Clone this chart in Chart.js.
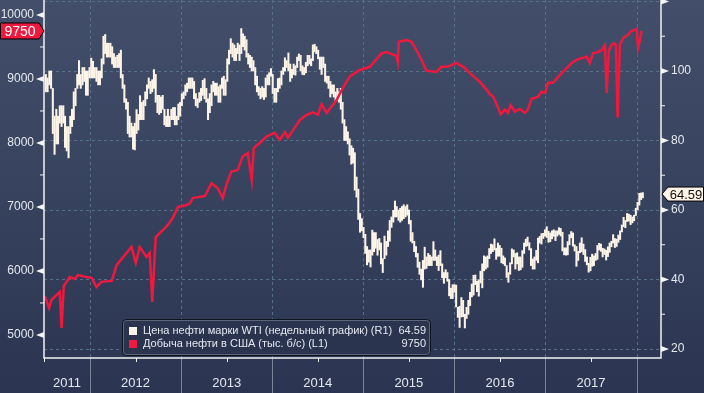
<!DOCTYPE html>
<html lang="ru">
<head>
<meta charset="UTF-8">
<title>WTI и добыча нефти в США</title>
<script src="https://cdn.jsdelivr.net/npm/chart.js@4.4.1/dist/chart.umd.min.js"></script>
<style>
html, body { margin: 0; padding: 0; background: #2e3a55; }
#wrap { width: 704px; height: 393px; }
</style>
</head>
<body>
<div id="wrap"><canvas id="chart" width="704" height="393"></canvas></div>
<script>
// weekly WTI bars (week ending dates, starting below), low / high, $/bbl
const wtiFirstWeek = '2011-07-08';
const wtiLow = [
  // 2011
  94,94,96,95,82,76,79,79,85,84,85,78,77,75,82,84,86,90,95,96,95,96,97,93,93,98,
  // 2012
  98,98,98,97,96,96,98,102,105,104,104,104,102,101,101,101,101,98,95,91,89,82,81,81,77.5,77.3,
  82,83,86,86,86,90,92,95,93.5,94,95,91,88,87.5,88,89,84.5,84,84,84,86,86,84.5,84.5,86,87,
  // 2013
  90,92,93,94,95,95,95,92,90,89.5,91,91.5,93,92,91,86,88,90,94,93,93,91,91,95,93,93,
  97,102,105,104,103,103,105,103,105,107,106,104,102,101,100,100,96,94,93,92,92.5,91.8,92.5,96,96,98.5,
  // 2014
  93.5,91,91,94,95,96,99,100,101,100,97,98,99,98.8,101,103,100,99,98.9,99.5,101.5,102,101.5,103,105.5,105,
  103.5,100.5,99,101,97,96.5,95,92.5,93.5,92.5,91.2,91.5,91,89,85,80,80,79,75.8,73.2,73.5,65.7,63.7,57.3,53.6,54,
  // 2015
  52,47.5,44.2,45,43.6,47,48,49,47,48.5,44.5,42,46,47,49.5,51,55,56.5,58,58,57,56.5,57,57.5,58,58.5,
  56,51,50.5,48,46.5,43.5,41.5,39.9,37.75,43,43.2,44,44,44,45.5,45.5,44,42.6,44,40.5,38.9,40.5,39.5,35.3,34.5,34.5,
  // 2016
  36.3,32.1,29.1,26.2,29.2,29.3,26.05,28.8,30,32.5,35,35.5,38.5,36.5,35.2,39,37.6,42.5,43,43.5,46,47.5,48,48.5,45.8,46.7,
  46.7,44.8,44.5,44,40.6,39.2,41.5,44.5,46.5,43,44.5,42.6,42.8,43.5,47.5,49.5,49.7,48.5,44,43,43,45.5,44.8,50.5,50.2,51.8,52.5,
  // 2017
  52.1,50.7,50.9,51.7,52.4,51.2,52.5,53,52.5,48.2,47.1,47,47.1,50,52,49.6,48.2,43.8,45.5,47.7,48,47.2,45.2,44.2,42.1,42.5,
  43.8,44,45.5,45.8,48.5,48.1,46.5,47.2,45.6,46.6,47.8,49.4,50.5,49.2,49.5,50.7,51.5,53.7,55.2,54.9,56.7,56.8,55.8,56.3,56.9,58.4,
  // 2018
  60.1,61.4,63,63.5
];
const wtiHigh = [
  // 2011
  99,98,100,100,95,87,89,87,90,90,90,87,84,84,87,89,94,95,99,103,99,101,101,100,100,101,
  // 2012
  103.7,102.8,101,101,100,100,103.5,110,110.5,108,108,108,107,105,104,104.5,105,106,99,96,92,91,87,85,84,85,
  88.9,87.5,92.9,91,91.5,94,96,98,97,97.5,100.4,99,93,93,92.5,93,89,87,89,87,89,89.5,89.5,87,90.5,91,
  // 2013
  93.5,94,96,96.5,98,98,98,97,93.5,92,93.8,95,97.3,97.8,95,92,93.5,96,97,96.5,96.5,95.5,96,98,98.5,97.5,
  103.5,106,109.3,108,107.5,106.5,108,107.5,112.2,110.7,110,109,105,104.5,104,103,101,98.5,95.5,95,95.5,95,98,98.9,99.5,100.7,
  // 2014
  99,95,95,97.8,98,100,101,103.8,103,105.2,102,100.5,102,101.5,104,104.9,104.5,101.5,101,102.5,104.5,104.5,103.5,107.5,107.7,107,
  106,104,104,104,102,98.5,98.5,97,96,96,94,95,94,95,91,86,84,82.5,80.5,78.5,77.8,76.5,69.5,66,59,57.5,
  // 2015
  55,53,49.5,48.5,48.5,54.2,53.5,53.5,51.5,51.8,50.5,46,52.5,51,54,57,58,59.9,62.6,61,60,60.5,61,61.5,61,61.5,
  60,57,53.5,51,49.5,47.5,45,43,45.5,49.3,46.5,47.5,47,46.5,50.9,48.5,46.5,47,48.3,44.5,42,42.8,42,40,37.5,38.5,
  // 2016
  38.5,38.4,32,32.3,34.8,34,30,32,34,36.3,38.7,41.2,41.3,39.5,39.9,42.4,44.5,46.8,46.5,46.8,48.9,50.2,50,51.7,49,50.5,
  49.8,49,46.8,46.2,44,42,44.8,48.8,48.5,47.5,47.7,46.5,46.5,48.3,50.5,51.6,52.2,50.6,48.9,45.9,46.5,48.4,51.9,52.4,53.2,53.3,54.3,
  // 2017
  55.2,53.9,53.4,54,54.3,54,54,54.9,54.7,53.6,49.1,49.1,50.9,52.9,53.8,53.4,50,49.5,48.1,50.5,52,50.2,48.6,46.5,44.7,46.4,
  47.3,46.8,47.5,49.8,50.4,50.2,49,48.8,48.4,49.4,50.5,51,52.9,51.8,51.6,52.8,54,55.7,57.9,57,59,58.8,58.5,58,58.5,60.5,
  // 2018
  62.2,64.8,64.9,65
];
const wtiLast = 64.59;

// US crude production, thousand b/d
const prodDates = [
  '2011-07-04','2011-07-21','2011-07-31','2011-09-02','2011-09-09','2011-09-18','2011-10-12','2011-11-01','2011-11-13',
  '2012-01-08','2012-01-27','2012-02-16','2012-03-28','2012-04-17','2012-05-20','2012-06-16','2012-07-03','2012-07-19',
  '2012-08-15','2012-08-28','2012-09-07','2012-09-21','2012-10-20','2012-11-09','2012-11-29','2012-12-19',
  '2013-01-23','2013-02-06','2013-02-17','2013-03-04','2013-04-06','2013-05-03','2013-05-28','2013-06-17','2013-07-01',
  '2013-07-21','2013-08-16','2013-09-05','2013-09-25','2013-10-11','2013-10-19','2013-11-12','2013-12-09',
  '2014-01-11','2014-01-31','2014-02-21','2014-03-05','2014-03-25','2014-04-22','2014-05-19','2014-06-13','2014-07-03',
  '2014-07-18','2014-08-07','2014-09-16','2014-10-11','2014-11-08','2014-12-18',
  '2015-01-27','2015-03-15','2015-04-04','2015-05-14','2015-05-19','2015-05-23','2015-06-23','2015-07-13','2015-08-02',
  '2015-08-22','2015-09-11','2015-10-21','2015-11-10','2015-12-05',
  '2016-01-10','2016-02-12','2016-03-03','2016-04-13','2016-05-10','2016-05-23','2016-06-05','2016-06-24','2016-07-05',
  '2016-07-22','2016-08-03','2016-08-14','2016-08-31','2016-09-20','2016-10-10','2016-10-22','2016-11-06','2016-12-01',
  '2016-12-16','2016-12-30',
  '2017-01-11','2017-01-31','2017-02-15','2017-03-07','2017-04-01','2017-04-16','2017-05-11','2017-05-31','2017-06-15',
  '2017-06-28','2017-07-10','2017-07-30','2017-08-14','2017-08-27','2017-09-03','2017-09-12','2017-09-23','2017-10-02',
  '2017-10-10','2017-10-17','2017-10-26','2017-11-08','2017-11-28','2017-12-12',
  '2018-01-01','2018-01-07','2018-01-14','2018-01-21'
];
const prodValues = [
  5610,5420,5550,5670,5110,5765,5906,5875,5935,
  5890,5750,5830,5845,6090,6250,6375,6125,6375,
  6220,6280,5515,6530,6640,6720,6830,7000,
  7030,7060,7140,7150,7170,7370,7290,7140,7340,
  7550,7580,7790,7840,7420,7920,8000,8100,
  8160,8050,8170,8080,8200,8360,8440,8480,8440,
  8610,8470,8670,8860,9040,9140,
  9190,9400,9420,9360,9270,9580,9610,9580,9450,
  9300,9130,9110,9190,9190,
  9250,9170,9090,8950,8830,8760,8720,8560,8450,
  8520,8470,8590,8490,8530,8470,8520,8690,8720,
  8800,8780,
  8940,8940,9010,9090,9190,9250,9310,9330,9350,
  9250,9400,9420,9450,9530,8780,9450,9530,9560,
  9530,8400,9530,9640,9690,9750,
  9780,9480,9610,9750
];

const leftTicks = [5000, 6000, 7000, 8000, 9000, 10000];
const rightTicks = [20, 40, 60, 80, 100, 120];
const yearLabels = ['2011', '2012', '2013', '2014', '2015', '2016', '2017'];
const legendNames = [
  'Цена нефти марки WTI (недельный график) (R1)',
  'Добыча нефти в США (тыс. б/с) (L1)'
];

const FONT = '"Liberation Sans", Arial, sans-serif';
const TXT = '#e4e8ef';
const RED = '#f0183e';
const CREAM = '#fdf4e8';

function toYear(t) {
  if (typeof t === 'string') t = Date.parse(t + 'T00:00:00Z');
  const y = new Date(t).getUTCFullYear();
  const a = Date.UTC(y, 0, 1), b = Date.UTC(y + 1, 0, 1);
  return y + (t - a) / (b - a);
}

const week0 = Date.parse(wtiFirstWeek + 'T00:00:00Z');
const wtiData = wtiLow.map((lo, i) => ({ x: toYear(week0 + i * 7 * 86400000), y: [lo, wtiHigh[i]] }));
const prodData = prodDates.map((d, i) => ({ x: toYear(d), y: prodValues[i] }));

function flag(ctx, pts, fill) {
  ctx.beginPath();
  pts.forEach((p, i) => i ? ctx.lineTo(p[0], p[1]) : ctx.moveTo(p[0], p[1]));
  ctx.closePath();
  ctx.fillStyle = fill;
  ctx.fill();
  ctx.strokeStyle = '#000';
  ctx.lineWidth = 1;
  ctx.stroke();
}

// no extra room for half tick labels: plot runs to the canvas top
function noPad(s) {
  s.paddingTop = 0; s.paddingBottom = 0; s.paddingLeft = 0; s.paddingRight = 0;
}

const deco = {
  id: 'deco',
  beforeDraw(chart) {
    const { ctx, width, height } = chart;
    const g = ctx.createLinearGradient(0, 0, 0, height);
    g.addColorStop(0, '#434f6a');
    g.addColorStop(1, '#2b3551');
    ctx.save();
    ctx.fillStyle = g;
    ctx.fillRect(0, 0, width, height);
    ctx.restore();
  },
  beforeDatasetsDraw(chart) {
    const { ctx, chartArea: a, scales } = chart;
    ctx.save();
    ctx.strokeStyle = '#587189';
    ctx.lineWidth = 1;
    ctx.setLineDash([3, 3]);
    rightTicks.forEach(v => {
      const y = Math.round(scales.yR.getPixelForValue(v)) + 0.5;
      ctx.beginPath(); ctx.moveTo(a.left, y); ctx.lineTo(a.right, y); ctx.stroke();
    });
    for (let yr = 2012; yr <= 2018; yr++) {
      const x = Math.round(scales.x.getPixelForValue(yr)) + 0.5;
      ctx.beginPath(); ctx.moveTo(x, a.top); ctx.lineTo(x, a.bottom); ctx.stroke();
    }
    ctx.restore();
  },
  afterDraw(chart) {
    const { ctx, chartArea: a, scales, width, height } = chart;
    const xs = scales.x, yL = scales.yL, yR = scales.yR;
    ctx.save();
    // year separators and mid-year ticks under the axis
    ctx.strokeStyle = '#7b8598';
    ctx.lineWidth = 1;
    for (let yr = 2012; yr <= 2018; yr++) {
      const x = Math.round(xs.getPixelForValue(yr)) + 0.5;
      ctx.beginPath(); ctx.moveTo(x, a.bottom); ctx.lineTo(x, height); ctx.stroke();
    }
    ctx.strokeStyle = '#f2f2f2';
    for (let yr = 2011; yr <= 2017; yr++) {
      const x = Math.round(xs.getPixelForValue(yr + 0.5)) + 0.5;
      if (x < a.left || x > a.right) continue;
      ctx.beginPath(); ctx.moveTo(x, a.bottom); ctx.lineTo(x, a.bottom + 4); ctx.stroke();
    }
    // axis lines
    ctx.lineWidth = 1.5;
    ctx.beginPath();
    ctx.moveTo(a.left, 0); ctx.lineTo(a.left, a.bottom);
    ctx.lineTo(a.right, a.bottom); ctx.lineTo(a.right, 0);
    ctx.stroke();
    // tick markers
    ctx.fillStyle = '#f4f4f4';
    ctx.lineWidth = 1;
    leftTicks.forEach(v => {
      const y = yL.getPixelForValue(v);
      ctx.beginPath(); ctx.moveTo(a.left, y - 3); ctx.lineTo(a.left, y + 3); ctx.lineTo(a.left - 8, y); ctx.fill();
      const m = yL.getPixelForValue(v + 500);
      if (m > a.top) { ctx.beginPath(); ctx.moveTo(a.left - 4, m); ctx.lineTo(a.left, m); ctx.stroke(); }
    });
    rightTicks.forEach(v => {
      const y = yR.getPixelForValue(v);
      ctx.beginPath(); ctx.moveTo(a.right, y - 3); ctx.lineTo(a.right, y + 3); ctx.lineTo(a.right + 8, y); ctx.fill();
      const m = yR.getPixelForValue(v + 10);
      if (m > a.top) { ctx.beginPath(); ctx.moveTo(a.right, m); ctx.lineTo(a.right + 4, m); ctx.stroke(); }
    });
    // year labels centred on visible part of each year
    ctx.fillStyle = TXT;
    ctx.font = '13px ' + FONT;
    ctx.textAlign = 'center';
    ctx.textBaseline = 'middle';
    yearLabels.forEach(lbl => {
      const yr = +lbl;
      const x0 = Math.max(xs.getPixelForValue(yr), a.left);
      const x1 = Math.min(xs.getPixelForValue(yr + 1), a.right);
      ctx.fillText(lbl, (x0 + x1) / 2, 383);
    });
    // last value flags
    const lastProd = prodValues[prodValues.length - 1];
    const py = yL.getPixelForValue(lastProd);
    flag(ctx, [[0.5, py - 8], [a.left - 5, py - 8], [a.left, py], [a.left - 5, py + 8], [0.5, py + 8]], RED);
    ctx.fillStyle = '#fff';
    ctx.font = '14px ' + FONT;
    ctx.fillText(String(lastProd), 20, py + 1);
    const wy = yR.getPixelForValue(wtiLast);
    flag(ctx, [[a.right + 1, wy], [a.right + 7, wy - 7], [width - 0.5, wy - 7], [width - 0.5, wy + 7], [a.right + 7, wy + 7]], CREAM);
    ctx.fillStyle = '#111';
    ctx.font = '13px ' + FONT;
    ctx.fillText(wtiLast.toFixed(2), 686, wy + 1);
    // legend box
    const bx = 122.5, by = 319.5, bw = 308, bh = 36;
    ctx.beginPath();
    ctx.roundRect(bx, by, bw, bh, 4);
    ctx.fillStyle = '#2a344f';
    ctx.fill();
    ctx.strokeStyle = '#0e1320';
    ctx.lineWidth = 1;
    ctx.stroke();
    ctx.beginPath();
    ctx.roundRect(bx + 1, by + 1, bw - 2, bh - 2, 3);
    ctx.strokeStyle = '#5c6579';
    ctx.stroke();
    const values = [wtiLast.toFixed(2), String(lastProd)];
    const colors = [CREAM, RED];
    ctx.font = '11px ' + FONT;
    legendNames.forEach((name, i) => {
      const cy = 331 + i * 13;
      ctx.fillStyle = colors[i];
      ctx.fillRect(129, cy - 4, 8, 8);
      ctx.fillStyle = TXT;
      ctx.textAlign = 'left';
      ctx.fillText(name, 143, cy);
      ctx.textAlign = 'right';
      ctx.fillText(values[i], 426, cy);
    });
    ctx.restore();
  }
};

new Chart(document.getElementById('chart'), {
  type: 'bar',
  data: {
    datasets: [
      {
        type: 'line',
        label: legendNames[1],
        data: prodData,
        yAxisID: 'yL',
        borderColor: RED,
        borderWidth: 2.5,
        pointRadius: 0,
        tension: 0,
        order: 0
      },
      {
        type: 'bar',
        label: legendNames[0],
        data: wtiData,
        yAxisID: 'yR',
        backgroundColor: CREAM,
        borderWidth: 0,
        barThickness: 1.4,
        grouped: false,
        order: 1
      }
    ]
  },
  options: {
    responsive: false,
    animation: false,
    layout: { padding: 0 },
    plugins: { legend: { display: false }, tooltip: { enabled: false } },
    scales: {
      x: {
        type: 'linear',
        min: 2011.495,
        max: 2018.268,
        offset: false,
        grid: { display: false, drawTicks: false },
        border: { display: false },
        ticks: { display: false },
        afterFit(s) { s.height = 35; noPad(s); }
      },
      yL: {
        type: 'linear',
        position: 'left',
        min: 4640,
        max: 10234,
        grid: { display: false, drawTicks: false },
        border: { display: false },
        ticks: { color: TXT, font: { family: FONT, size: 12 }, padding: 10, callback: v => String(v) },
        afterBuildTicks(s) { s.ticks = leftTicks.map(v => ({ value: v })); },
        afterFit(s) { s.width = 44; noPad(s); }
      },
      yR: {
        type: 'linear',
        position: 'right',
        min: 17.41,
        max: 120.43,
        grid: { display: false, drawTicks: false },
        border: { display: false },
        ticks: {
          color: TXT,
          font: { family: FONT, size: 12 },
          padding: 10,
          callback: v => (v > 110 ? '' : String(v))
        },
        afterBuildTicks(s) { s.ticks = rightTicks.map(v => ({ value: v })); },
        afterFit(s) { s.width = 43; noPad(s); }
      }
    }
  },
  plugins: [deco]
});
</script>
</body>
</html>
